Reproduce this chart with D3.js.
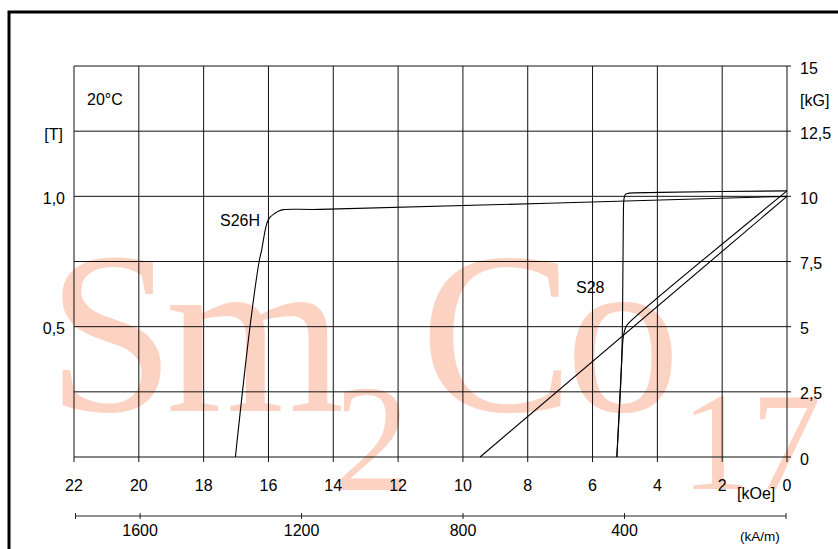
<!DOCTYPE html>
<html><head><meta charset="utf-8">
<script src="https://cdn.jsdelivr.net/npm/d3@7"></script>
<style>
body{margin:0;background:#fff}
svg{display:block}
text{font-family:"Liberation Sans",Arial,Helvetica,sans-serif;fill:#000}
</style>
</head><body><div id="chart"></div>
<script>
// ---- data ----
const kOeTicks = [22,20,18,16,14,12,10,8,6,4,2,0];
const kGTicks = [0,2.5,5,7.5,10,12.5,15];
const teslaTicks = [0.5,1.0];
const kAmTicks = [1600,1200,800,400];
const kAmEnds = [1760,0];

// S26H intrinsic (J) curve: H [kOe], B [kG]
const s26hJ_H = [0, 14.41, 15.54, 15.68, 15.80, 15.95, 16.05, 16.21, 16.29, 16.57, 17.02];
const s26hJ_B = [10.0, 9.50, 9.49, 9.44, 9.35, 9.20, 8.96, 7.94, 7.48, 4.99, 0];
// S26H normal (B) curve
const s26hB_H = [0, 9.47];
const s26hB_B = [10.0, 0];
// S28 intrinsic (J) curve
const s28J_H = [0, 3.92, 4.93, 4.99, 5.03, 5.05, 5.07, 5.10, 5.25];
const s28J_B = [10.21, 10.15, 10.11, 10.07, 9.90, 9.09, 6.02, 3.72, 0];
// S28 normal (B) curve
const s28B_H = [0, 4.90, 4.97, 5.04, 5.08, 5.10, 5.25];
const s28B_B = [10.21, 5.12, 5.00, 4.70, 4.20, 3.72, 0];

const curveLabels = ["S26H","S28"];
const tempLabel = "20°C";
const watermarkMain = ["S","m","C","o"];
const watermarkSubs = ["2","17"];

// ---- layout ----
const W = 838, H = 549;
const L = 74, R = 787, T = 66, B = 457;

const svg = d3.select("#chart").append("svg").attr("width", W).attr("height", H);

const x = d3.scaleLinear().domain([22,0]).range([L,R]);
const yG = d3.scaleLinear().domain([0,15]).range([B,T]);
const yT = d3.scaleLinear().domain([0,1.5]).range([B,T]);
const xA = d3.scaleLinear().domain(kAmEnds).range([75.5,786]);

// watermark
const serif = "'Liberation Serif','Times New Roman',Times,serif";
const wmCol = "#fcd2c3";
const bigX = [111,255,497,623];
watermarkMain.forEach((t,i) => svg.append("text").attr("x",bigX[i]).attr("y",411)
  .attr("text-anchor","middle").attr("font-size",230).style("fill",wmCol)
  .style("font-family",serif).text(t));
svg.append("text").attr("x",372).attr("y",490).attr("text-anchor","middle")
  .attr("font-size",152).style("fill",wmCol).style("font-family",serif).text(watermarkSubs[0]);
svg.append("text").attr("x",681).attr("y",489).attr("text-anchor","start")
  .attr("font-size",140).style("fill",wmCol).style("font-family",serif).text(watermarkSubs[1]);

// frame
svg.append("rect").attr("x",9).attr("y",12).attr("width",1000).attr("height",1000)
  .attr("fill","none").attr("stroke","#000").attr("stroke-width",3);

// grid
const grid = svg.append("g").attr("stroke","#111").attr("stroke-width",1);
grid.selectAll("line.v").data(kOeTicks).enter().append("line")
  .attr("x1",d=>x(d)).attr("x2",d=>x(d)).attr("y1",T).attr("y2",B+5);
grid.selectAll("line.h").data(kGTicks).enter().append("line")
  .attr("x1",L).attr("x2",R+4).attr("y1",d=>yG(d)).attr("y2",d=>yG(d));

// kOe labels
svg.selectAll("text.kOe").data(kOeTicks).enter().append("text")
  .attr("x",d=>x(d)).attr("y",491).attr("text-anchor","middle")
  .attr("font-size",16).text(d=>d);
svg.append("text").attr("x",737).attr("y",499).attr("font-size",16).text("[kOe]");

// kG labels (right)
const fmt = v => String(v).replace(".",",");
svg.selectAll("text.kG").data(kGTicks).enter().append("text")
  .attr("x",800).attr("y",d=>yG(d)+7.5).attr("font-size",16).text(d=>fmt(d));
svg.append("text").attr("x",800).attr("y",106).attr("font-size",16).text("[kG]");

// Tesla labels (left)
svg.selectAll("text.T").data(teslaTicks).enter().append("text")
  .attr("x",65).attr("y",d=>yT(d)+7.5).attr("text-anchor","end")
  .attr("font-size",16).text(d=>d.toFixed(1).replace(".",","));
svg.append("text").attr("x",63).attr("y",140).attr("text-anchor","end")
  .attr("font-size",16).text("[T]");

svg.append("text").attr("x",87).attr("y",105).attr("font-size",16).text(tempLabel);

// kA/m axis
const ya = 516;
const ax = svg.append("g").attr("stroke","#222").attr("stroke-width",1);
ax.append("line").attr("x1",xA(kAmEnds[0])).attr("x2",xA(kAmEnds[1])).attr("y1",ya).attr("y2",ya);
ax.selectAll("line.t").data(kAmEnds.concat(kAmTicks)).enter().append("line")
  .attr("x1",d=>xA(d)).attr("x2",d=>xA(d)).attr("y1",ya-3).attr("y2",ya+3);
svg.selectAll("text.kAm").data(kAmTicks).enter().append("text")
  .attr("x",d=>xA(d)).attr("y",536).attr("text-anchor","middle")
  .attr("font-size",16).text(d=>d);
svg.append("text").attr("x",740).attr("y",541).attr("font-size",13.5).text("(kA/m)");

// curves
const line = d3.line().x(d=>x(d[0])).y(d=>yG(d[1])).curve(d3.curveCatmullRom.alpha(0.5));
const zip = (a,b) => a.map((v,i)=>[v,b[i]]);
const curves = [zip(s26hJ_H,s26hJ_B), zip(s26hB_H,s26hB_B), zip(s28J_H,s28J_B), zip(s28B_H,s28B_B)];
svg.append("g").selectAll("path").data(curves).enter().append("path")
  .attr("d",line).attr("fill","none").attr("stroke","#000").attr("stroke-width",1.1);

// curve labels
svg.append("text").attr("x",260).attr("y",226).attr("text-anchor","end")
  .attr("font-size",16).text(curveLabels[0]);
svg.append("text").attr("x",576).attr("y",293).attr("font-size",16).text(curveLabels[1]);
</script>
</body></html>
